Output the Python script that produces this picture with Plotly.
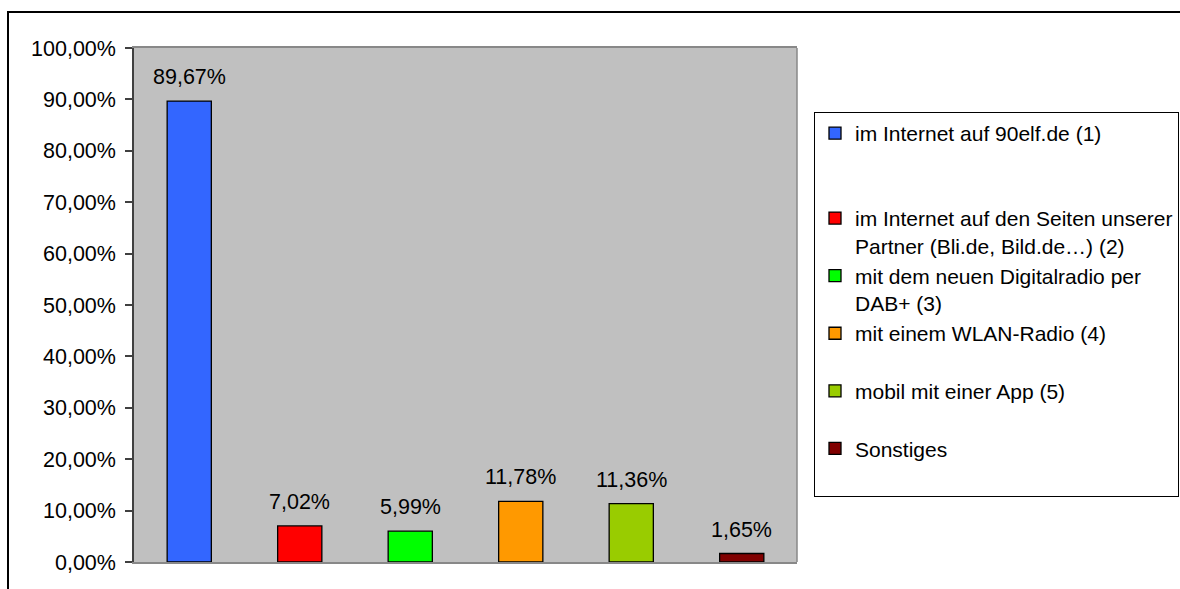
import plotly.graph_objects as go

# Survey results: how listeners tune in
categories = [
    "im Internet auf 90elf.de (1)",
    "im Internet auf den Seiten unserer<br>Partner (Bli.de, Bild.de…) (2)",
    "mit dem neuen Digitalradio per<br>DAB+ (3)",
    "mit einem WLAN-Radio (4)",
    "mobil mit einer App (5)",
    "Sonstiges",
]
shares = [0.8967, 0.0702, 0.0599, 0.1178, 0.1136, 0.0165]
colors = ["#3366FF", "#FF0000", "#00FF00", "#FF9900", "#99CC00", "#800000"]
y_ticks = [0.0, 0.1, 0.2, 0.3, 0.4, 0.5, 0.6, 0.7, 0.8, 0.9, 1.0]

# extra blank lines per legend entry to space the entries out
legend_pad = [2, 0, 0, 1, 1, 1]

FONT = "Arial, Liberation Sans, sans-serif"
W, H = 1180, 589
L, R, T, B = 134, 383, 48, 27
pw, ph = W - L - R, H - T - B

fig = go.Figure()
for i, (cat, val, col) in enumerate(zip(categories, shares, colors)):
    fig.add_bar(
        x=[i], y=[val],
        name=cat + "<br> " * legend_pad[i],
        legendgroup=str(i),
        width=0.4,
        marker=dict(color=col, line=dict(color="black", width=1.3)),
        hoverinfo="skip",
    )
    fig.add_annotation(
        x=i, y=val, xref="x", yref="y",
        text=f"{val * 100:.2f}".replace(".", ",") + "%",
        showarrow=False, yanchor="bottom", yshift=10,
        font=dict(size=21.5, color="black", family=FONT),
    )

# outer frame of the chart
fig.add_shape(type="rect", xref="paper", yref="paper",
              x0=(8 - L) / pw, x1=(W + 20 - L) / pw,
              y0=-(B + 20) / ph, y1=1 + (T - 12) / ph,
              line=dict(color="black", width=2), layer="above")
# right edge of plot area
fig.add_shape(type="line", xref="paper", yref="paper", x0=1, x1=1, y0=0, y1=1,
              line=dict(color="#888888", width=1.5))

fig.update_layout(
    width=W, height=H,
    margin=dict(l=L, r=R, t=T, b=B, autoexpand=False),
    paper_bgcolor="white",
    plot_bgcolor="#C0C0C0",
    separators=",.",
    font=dict(family=FONT, size=21, color="black"),
    barmode="overlay",
    showlegend=True,
    legend=dict(
        x=(814 - L) / pw, xanchor="left",
        y=1 - (112 - T) / ph, yanchor="top",
        bgcolor="white", bordercolor="black", borderwidth=1,
        font=dict(size=21, family=FONT, color="black"),
        valign="top", tracegroupgap=0, traceorder="normal",
    ),
    xaxis=dict(
        range=[-0.5, 5.5], showticklabels=False, ticks="",
        showline=True, linecolor="#888888", linewidth=1.5, mirror=True,
        showgrid=False, zeroline=False, fixedrange=True,
    ),
    yaxis=dict(
        range=[0, 1], tickvals=y_ticks, tickformat=".2%",
        ticks="outside", ticklen=7, tickcolor="#404040", tickwidth=1.5,
        ticklabelstandoff=5,
        showline=True, linecolor="#404040", linewidth=1.5,
        showgrid=False, zeroline=False, fixedrange=True,
        tickfont=dict(size=21.5, family=FONT, color="black"),
    ),
)

fig.write_html("out.html")
